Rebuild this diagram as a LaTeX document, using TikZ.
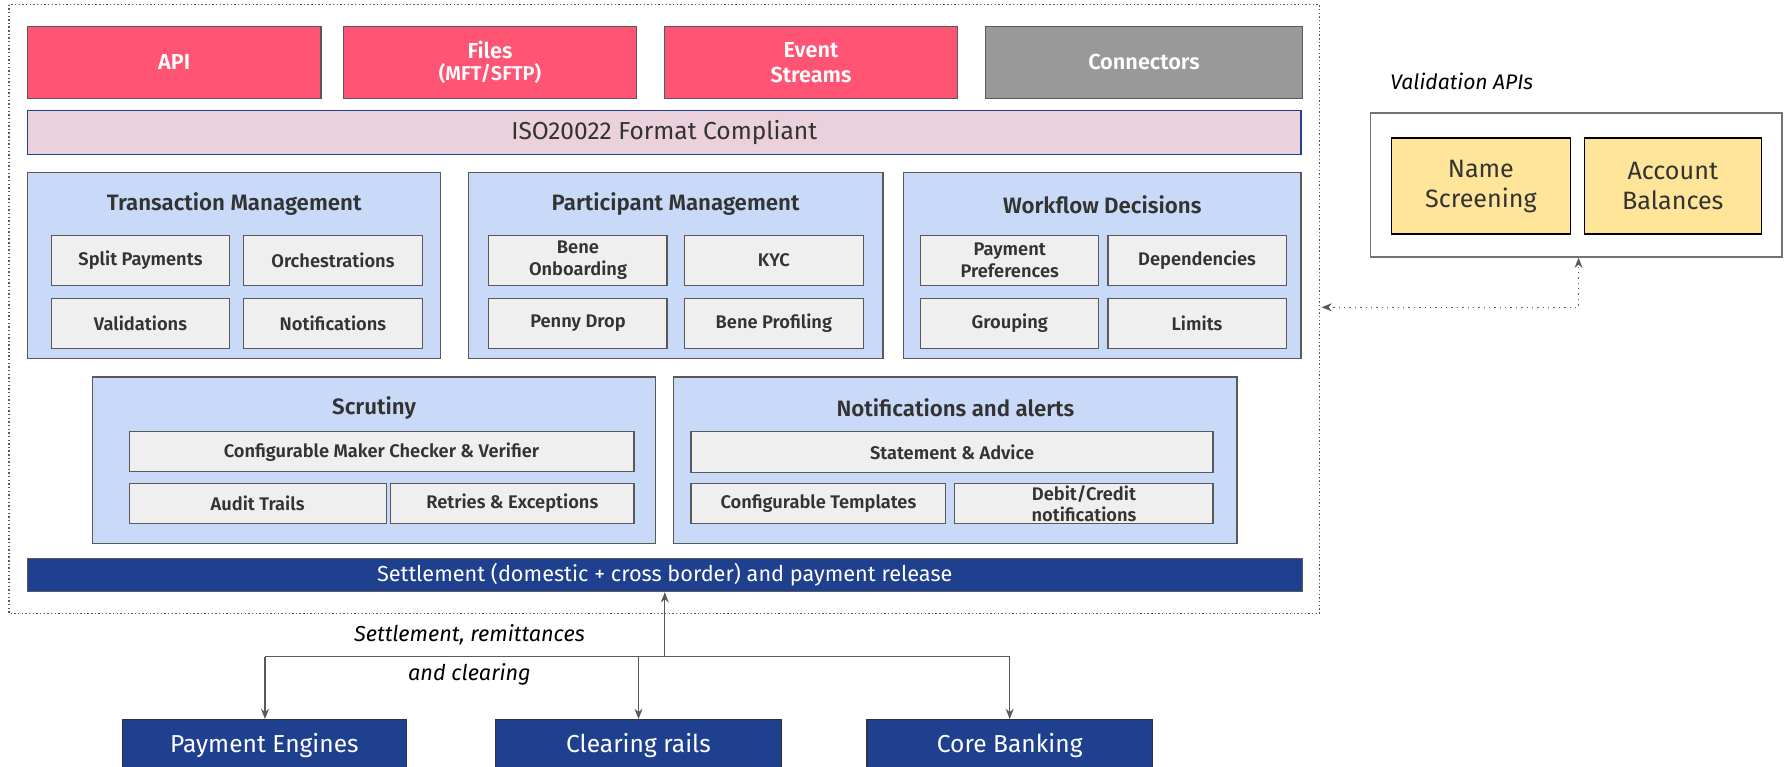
\documentclass[tikz,border=0pt]{standalone}
\usepackage{fontspec}
\setmainfont{Fira Sans}[BoldFont={FiraSans-SemiBold}]
\usetikzlibrary{arrows.meta}
\definecolor{pinkc}{HTML}{FF5473}
\definecolor{grayc}{HTML}{999999}
\definecolor{isofill}{HTML}{EAD1DC}
\definecolor{navy}{HTML}{1F3F8F}
\definecolor{panelc}{HTML}{C9DAF8}
\definecolor{itemc}{HTML}{EFEFEF}
\definecolor{yellowc}{HTML}{FFE599}
\definecolor{txt}{HTML}{333333}
\definecolor{linec}{HTML}{595959}
\tikzset{
  box/.style={rectangle, inner sep=0pt, align=center},
  topbox/.style={box, draw=linec, line width=1pt, fill=pinkc, text=white, font=\bfseries\fontsize{19}{22}\selectfont},
  panel/.style={box, draw=linec, line width=1pt, fill=panelc},
  ptitle/.style={text=txt, font=\bfseries\fontsize{19.5}{22}\selectfont, inner sep=0pt},
  item/.style={box, draw=linec, line width=1pt, fill=itemc, text=txt, font=\bfseries\fontsize{16}{19}\selectfont},
  navybox/.style={box, draw=black!80, line width=1pt, fill=navy, text=white, font=\fontsize{21.5}{24}\selectfont},
  ybox/.style={box, draw=black, line width=1.3pt, fill=yellowc, text=txt, font=\fontsize{22}{26}\selectfont},
  lbl/.style={inner sep=0pt, text=black, font=\itshape\fontsize{19}{21}\selectfont},
  conn/.style={draw=linec, line width=1.2pt, -{Stealth[length=9pt,width=7pt]}},
}
\begin{document}
\begin{tikzpicture}[x=1pt,y=-1pt]
\useasboundingbox (0,0) rectangle (1568,671);
% outer dotted frame
\draw[linec, dotted, line width=1.2pt] (8,4) rectangle (1155,537);
% top boxes
\node[topbox, minimum width=257, minimum height=63] (api) at (152.5,54.5) {API};
\node[topbox, minimum width=256, minimum height=63] (files) at (429,54.5) {Files\\[-3pt]{\fontsize{17.5}{19}\selectfont (MFT/SFTP)}};
\node[topbox, minimum width=256, minimum height=63] (event) at (710,54.5) {Event\\Streams};
\node[topbox, fill=grayc, minimum width=277, minimum height=63] (conn) at (1001.5,54.5) {Connectors};
% ISO bar
\node[box, draw=navy, line width=1.2pt, fill=isofill, text=txt, font=\fontsize{21.5}{24}\selectfont, minimum width=1115, minimum height=38] (iso) at (581.5,116) {ISO20022 Format Compliant};
% row 1 panels
\node[panel, minimum width=362, minimum height=163] (tm) at (205,232.5) {};
\node[panel, minimum width=363, minimum height=163] (pm) at (591.5,232.5) {};
\node[panel, minimum width=348, minimum height=163] (wd) at (965,232.5) {};
\node[ptitle] (tmt) at (205,179) {Transaction Management};
\node[ptitle] (pmt) at (591.5,179) {Participant Management};
\node[ptitle] (wdt) at (965,179) {Workflow Decisions};
% TM items
\node[item, minimum width=156, minimum height=44] (split) at (123,228) {Split Payments};
\node[item, minimum width=157, minimum height=44] (orch) at (291.5,228) {Orchestrations};
\node[item, minimum width=156, minimum height=44] (valid) at (123,283) {Validations};
\node[item, minimum width=157, minimum height=44] (notif) at (291.5,283) {Notifications};
% PM items
\node[item, minimum width=156, minimum height=44] (bene) at (506,228) {Bene\\Onboarding};
\node[item, minimum width=157, minimum height=44] (kyc) at (677.5,228) {KYC};
\node[item, minimum width=156, minimum height=44] (penny) at (506,283) {Penny Drop};
\node[item, minimum width=157, minimum height=44] (bprof) at (677.5,283) {Bene Profiling};
% WD items
\node[item, minimum width=156, minimum height=44] (ppref) at (884,228) {Payment\\Preferences};
\node[item, minimum width=156, minimum height=44] (deps) at (1048,228) {Dependencies};
\node[item, minimum width=156, minimum height=44] (group) at (884,283) {Grouping};
\node[item, minimum width=156, minimum height=44] (limits) at (1048,283) {Limits};
% row 2 panels
\node[panel, minimum width=493, minimum height=146] (scr) at (327.5,403) {};
\node[panel, minimum width=493, minimum height=146] (na) at (836.5,403) {};
\node[ptitle] (scrt) at (327.5,357) {Scrutiny};
\node[ptitle] (nat) at (836.5,357) {Notifications and alerts};
\node[item, minimum width=442, minimum height=35] (cmc) at (334,395.5) {Configurable Maker Checker \& Verifier};
\node[item, minimum width=225, minimum height=35] (audit) at (225.5,440.5) {Audit Trails};
\node[item, minimum width=213, minimum height=35] (retry) at (448.5,440.5) {Retries \& Exceptions};
\node[item, minimum width=457, minimum height=36] (stmt) at (833.5,396) {Statement \& Advice};
\node[item, minimum width=223, minimum height=35] (tmpl) at (716.5,440.5) {Configurable Templates};
\node[item, minimum width=226, minimum height=35, font=\bfseries\fontsize{16}{18}\selectfont] (debit) at (949,441) {Debit/Credit\\notifications};
% settlement bar
\node[box, draw=linec, line width=1pt, fill=navy, text=white, font=\fontsize{19}{21}\selectfont, minimum width=1116, minimum height=29] (settle) at (582,503.5) {Settlement (domestic + cross border) and payment release};
% bottom boxes (cropped by the page edge)
\begin{scope}
\clip (0,0) rectangle (1568,671);
\node[navybox, minimum width=249, minimum height=46] (pe) at (231.5,653) {Payment Engines};
\node[navybox, minimum width=250, minimum height=46] (cr) at (559,653) {Clearing rails};
\node[navybox, minimum width=250, minimum height=46] (cb) at (884,653) {Core Banking};
\end{scope}
% connectors
\coordinate (j) at (582,575);
\coordinate (jl) at (232,575);
\coordinate (jr) at (884,575);
\draw[conn] (j) -- (settle.south -| j);
\draw[draw=linec, line width=1.2pt] (jl) -- (jr);
\draw[conn] (jl) -- (jl |- pe.north);
\draw[conn] (j -| cr.north) -- (cr.north);
\draw[conn] (jr) -- (jr |- cb.north);
\node[lbl] (l1) at (411,556) {Settlement, remittances};
\node[lbl] (l2) at (411,590) {and clearing};
% validation APIs
\node[lbl, anchor=west, font=\itshape\fontsize{18.5}{20}\selectfont] (vtitle) at (1217,71) {Validation APIs};
\node[box, draw=black!55, line width=1.2pt, fill=white, minimum width=360, minimum height=126] (vbox) at (1380,162) {};
\node[ybox, minimum width=157, minimum height=84] (name) at (1296.5,163) {Name\\Screening};
\node[ybox, minimum width=155, minimum height=84] (acct) at (1464.5,163) {Account\\Balances};
\coordinate (vl) at (1157,269);
\coordinate (vb) at (1382,269);
\draw[draw=linec, line width=1.2pt, dash pattern=on 1.2pt off 3.5pt, {Stealth[length=9pt,width=7pt]}-{Stealth[length=9pt,width=7pt]}] (vl) -- (vb) -- (vb |- vbox.south);
\end{tikzpicture}
\end{document}
